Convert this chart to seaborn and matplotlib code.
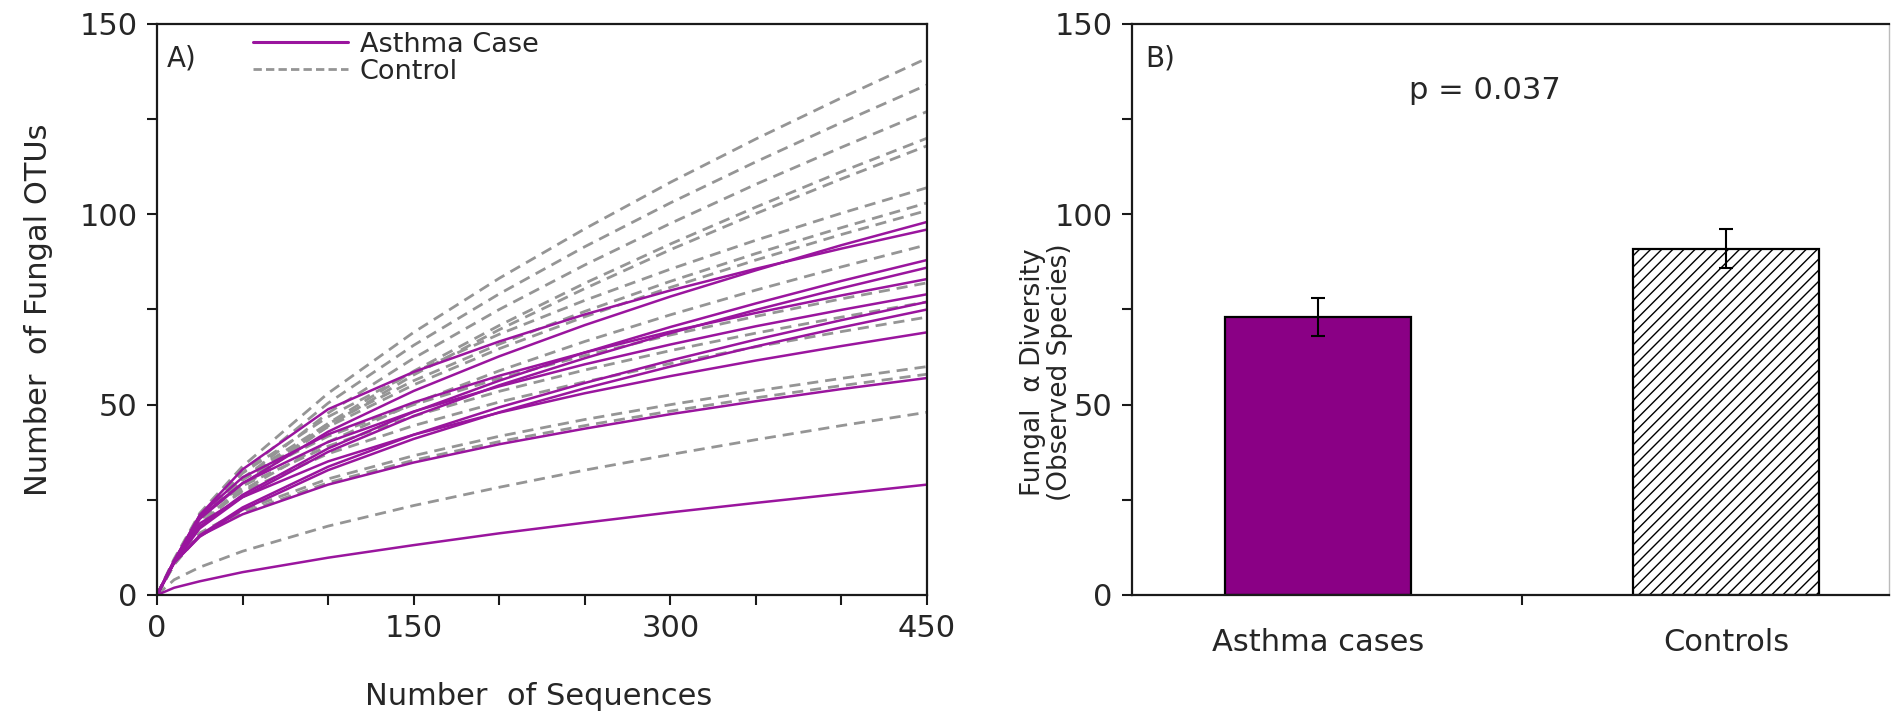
import numpy as np
import pandas as pd
import matplotlib
matplotlib.use("Agg")
import matplotlib.pyplot as plt
import seaborn as sns
from matplotlib.ticker import MultipleLocator, FixedLocator
from matplotlib.lines import Line2D

# ---------------- data ----------------
seq_depth = [0, 10, 25, 50, 100, 150, 200, 250, 300, 350, 400, 450]

control_otus = [
    [0, 9.5, 21.5, 33.8, 53.0, 69.0, 83.2, 96.2, 108.4, 119.8, 130.6, 141],
    [0, 9.0, 20.5, 32.1, 50.4, 65.6, 79.1, 91.5, 103.0, 113.8, 124.1, 134],
    [0, 9.0, 19.4, 30.5, 47.8, 62.2, 75.0, 86.7, 97.6, 107.9, 117.6, 127],
    [0, 8.5, 18.3, 28.8, 45.1, 58.8, 70.8, 81.9, 92.2, 101.9, 111.2, 120],
    [0, 8.5, 18.0, 28.3, 44.4, 57.8, 69.7, 80.5, 90.7, 100.2, 109.3, 118],
    [0, 9.0, 21.0, 32.0, 46.8, 58.5, 68.5, 77.4, 85.6, 93.2, 100.3, 107],
    [0, 9.0, 20.5, 30.8, 45.0, 56.3, 65.9, 74.5, 82.4, 89.7, 96.5, 103],
    [0, 9.0, 20.2, 30.2, 44.2, 55.2, 64.7, 73.1, 80.8, 88.0, 94.7, 101],
    [0, 8.5, 18.8, 27.5, 40.2, 50.3, 58.9, 66.6, 73.6, 80.1, 86.2, 92],
    [0, 9.0, 21.0, 30.5, 41.7, 50.0, 56.9, 62.9, 68.3, 73.2, 77.8, 82],
    [0, 8.5, 20.5, 28.7, 39.1, 47.0, 53.5, 59.1, 64.2, 68.8, 73.0, 77],
    [0, 8.0, 19.9, 27.2, 37.1, 44.5, 50.7, 56.0, 60.8, 65.2, 69.2, 73],
    [0, 8.0, 16.3, 22.3, 30.5, 36.6, 41.7, 46.1, 50.0, 53.6, 56.9, 60],
    [0, 8.0, 15.8, 21.6, 29.5, 35.4, 40.3, 44.5, 48.3, 51.8, 55.0, 58],
    [0, 4.0, 7.3, 11.5, 18.1, 23.5, 28.3, 32.8, 36.9, 40.8, 44.5, 48],
]

case_otus = [
    [0, 8.5, 20.0, 29.3, 42.9, 53.6, 62.7, 70.9, 78.4, 85.3, 91.9, 98],
    [0, 9.0, 21.0, 33.0, 48.8, 58.6, 66.6, 73.7, 80.0, 85.7, 91.0, 96],
    [0, 8.5, 18.0, 26.3, 38.5, 48.1, 56.3, 63.7, 70.4, 76.6, 82.5, 88],
    [0, 8.5, 17.5, 25.7, 37.6, 47.0, 55.1, 62.2, 68.8, 74.9, 80.6, 86],
    [0, 9.0, 21.0, 30.9, 42.2, 50.6, 57.6, 63.7, 69.2, 74.1, 78.7, 83],
    [0, 9.0, 20.5, 29.4, 40.2, 48.2, 54.8, 60.6, 65.8, 70.6, 74.9, 79],
    [0, 8.5, 15.7, 23.0, 33.7, 42.1, 49.3, 55.7, 61.6, 67.1, 72.2, 77],
    [0, 8.5, 15.3, 22.4, 32.8, 41.0, 48.0, 54.3, 60.0, 65.3, 70.3, 75],
    [0, 9.0, 18.8, 25.7, 35.1, 42.1, 47.9, 53.0, 57.5, 61.6, 65.4, 69],
    [0, 8.5, 15.5, 21.2, 29.0, 34.8, 39.6, 43.7, 47.5, 50.9, 54.1, 57],
    [0, 1.9, 3.6, 6.0, 9.8, 13.1, 16.2, 19.0, 21.7, 24.2, 26.6, 29],
]

bar_groups = ["Asthma cases", "Controls"]
bar_means = [73.0, 91.0]
bar_errors = [5.0, 5.2]
p_text = "p = 0.037"

# ---------------- style ----------------
sns.set_style("ticks")
plt.rcParams["font.family"] = ["DejaVu Sans"]
plt.rcParams["hatch.linewidth"] = 1.0
text_col = "#262626"
case_line_col = "#9A159E"
ctrl_line_col = "#959595"
case_bar_col = "#8A0085"
FS = 22

rows = []
for i, curve in enumerate(control_otus):
    for x, y in zip(seq_depth, curve):
        rows.append({"seq": x, "otus": y, "group": "Control", "sample": f"c{i}"})
for i, curve in enumerate(case_otus):
    for x, y in zip(seq_depth, curve):
        rows.append({"seq": x, "otus": y, "group": "Asthma Case", "sample": f"a{i}"})
df = pd.DataFrame(rows)

fig = plt.figure(figsize=(18.95, 7.15), dpi=100)
ax1 = fig.add_axes([157 / 1895, 1 - 595 / 715, 770 / 1895, 571 / 715])
ax2 = fig.add_axes([1132 / 1895, 1 - 595 / 715, 757 / 1895, 571 / 715])

# ---------------- panel A ----------------
sns.lineplot(data=df[df.group == "Control"], x="seq", y="otus", units="sample",
             estimator=None, color=ctrl_line_col, lw=2.0, ax=ax1, legend=False,
             sort=False)
for ln in ax1.lines:
    ln.set_dashes((4, 2.5))
sns.lineplot(data=df[df.group == "Asthma Case"], x="seq", y="otus", units="sample",
             estimator=None, color=case_line_col, lw=1.8, ax=ax1, legend=False,
             sort=False)

ax1.set_xlim(0, 450)
ax1.set_ylim(0, 150)
ax1.xaxis.set_major_locator(MultipleLocator(150))
ax1.xaxis.set_minor_locator(MultipleLocator(50))
ax1.yaxis.set_major_locator(MultipleLocator(50))
ax1.yaxis.set_minor_locator(MultipleLocator(25))
ax1.set_xlabel("Number  of Sequences", fontsize=FS, color=text_col)
ax1.set_ylabel("Number  of Fungal OTUs", fontsize=FS, color=text_col)
ax1.xaxis.set_label_coords(0.495, -0.152)
ax1.yaxis.set_label_coords(-0.135, 0.5)
ax1.text(6, 141, "A)", fontsize=20, color=text_col, va="center", ha="left")

handles = [Line2D([], [], color=case_line_col, lw=2.2),
           Line2D([], [], color=ctrl_line_col, lw=2.0, dashes=(3, 1.5))]
ax1.legend(handles, ["Asthma Case", "Control"], loc="upper left",
           bbox_to_anchor=(0.1, 1.02), frameon=False, fontsize=19.5,
           handlelength=3.5, handletextpad=0.45, labelspacing=0.05, borderpad=0.2,
           labelcolor=text_col)

# ---------------- panel B ----------------
sns.barplot(x=bar_groups, y=bar_means, hue=bar_groups,
            palette=[case_bar_col, "white"], saturation=1, legend=False,
            errorbar=None, width=0.456, edgecolor="black", linewidth=1.6, ax=ax2)
ax2.patches[1].set_hatch("///")
ax2.patches[1].set_facecolor("white")
ax2.errorbar([0, 1], bar_means, yerr=bar_errors, fmt="none", ecolor="black",
             elinewidth=1.5, capsize=5, capthick=1.5)

ax2.set_xlim(-0.456, 1.40)
ax2.set_ylim(0, 150)
ax2.yaxis.set_major_locator(MultipleLocator(50))
ax2.yaxis.set_minor_locator(MultipleLocator(25))
ax2.set_xticks([0, 1])
ax2.set_xticklabels(bar_groups)
ax2.xaxis.set_minor_locator(FixedLocator([0.5]))
ax2.set_ylabel("Fungal  α Diversity\n(Observed Species)", fontsize=19,
               color=text_col, linespacing=1.05)
ax2.yaxis.set_label_coords(-0.078, 0.39)
ax2.text(0.018, 0.94, "B)", transform=ax2.transAxes, fontsize=20,
         color=text_col, va="center", ha="left")
ax2.text(0.41, 132.5, p_text, fontsize=FS, color=text_col, ha="center", va="center")

for ax in (ax1, ax2):
    for sp in ax.spines.values():
        sp.set_visible(True)
        sp.set_linewidth(1.6)
        sp.set_color("#1a1a1a")
    ax.tick_params(axis="both", which="both", direction="out", length=7,
                   width=1.5, colors="#1a1a1a", labelsize=FS,
                   labelcolor=text_col, top=False, right=False)
    ax.tick_params(axis="both", which="major", pad=7)

ax2.tick_params(axis="x", which="major", length=0, pad=24)
ax2.spines["right"].set_color("#bbbbbb")
ax2.spines["right"].set_linewidth(1.0)

fig.savefig("out.png", dpi=100)
